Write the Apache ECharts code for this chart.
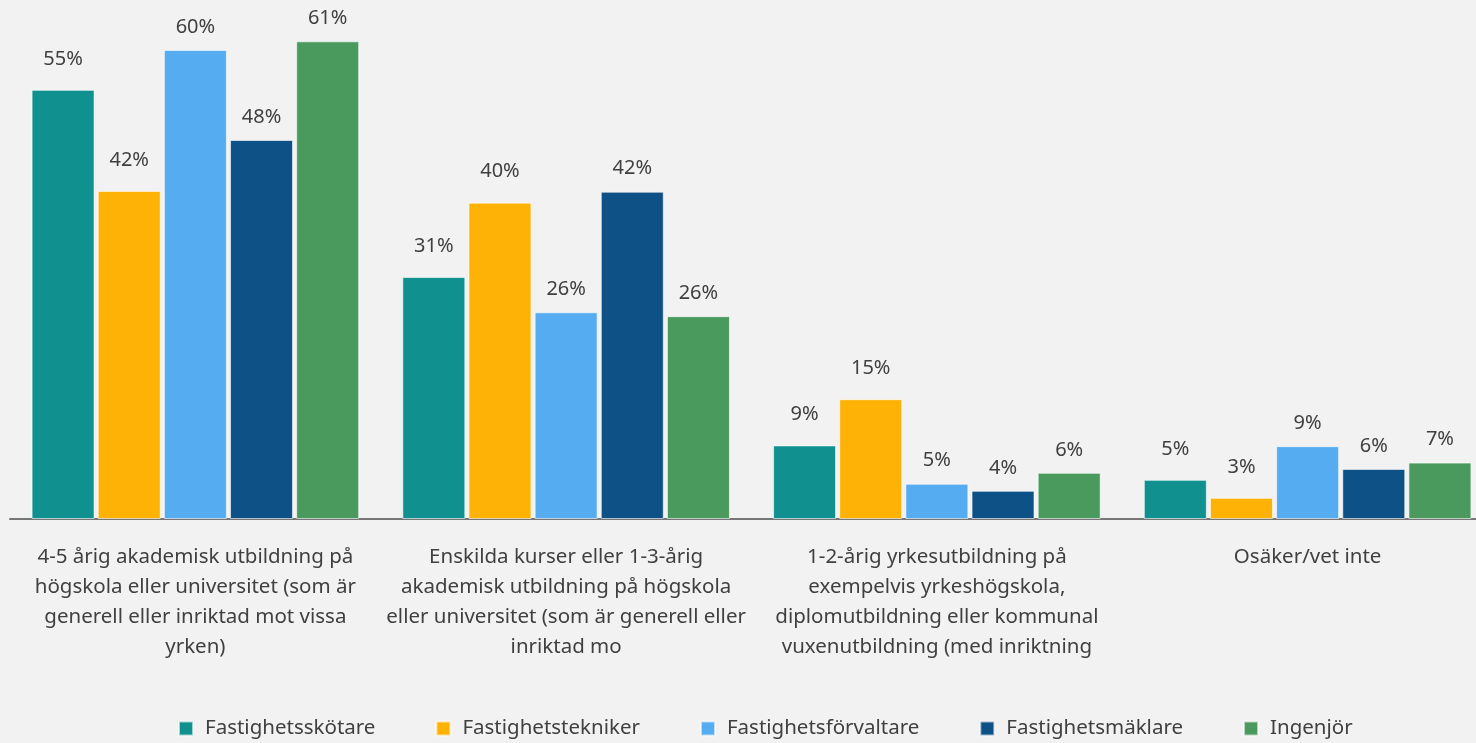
<!DOCTYPE html>
<html>
<head>
<meta charset="utf-8">
<script src="https://cdn.jsdelivr.net/npm/echarts@6/dist/echarts.min.js"></script>
<style>
html,body{margin:0;padding:0;background:#f2f2f2;}
#chart{width:1476px;height:743px;}
</style>
</head>
<body>
<div id="chart"></div>
<script>
const categories = [
  "4-5 årig akademisk utbildning på\nhögskola eller universitet (som är\ngenerell eller inriktad mot vissa\nyrken)",
  "Enskilda kurser eller 1-3-årig\nakademisk utbildning på högskola\neller universitet (som är generell eller\ninriktad mo",
  "1-2-årig yrkesutbildning på\nexempelvis yrkeshögskola,\ndiplomutbildning eller kommunal\nvuxenutbildning (med inriktning",
  "Osäker/vet inte"
];
const seriesNames = ["Fastighetsskötare", "Fastighetstekniker", "Fastighetsförvaltare", "Fastighetsmäklare", "Ingenjör"];
const fastighetsskotare = [54.8, 30.9, 9.4, 5.0];
const fastighetstekniker = [41.9, 40.4, 15.3, 2.7];
const fastighetsforvaltare = [59.9, 26.4, 4.5, 9.3];
const fastighetsmaklare = [48.4, 41.8, 3.6, 6.4];
const ingenjor = [61.0, 25.9, 5.9, 7.2];
const colors = ["#10918f", "#fdb205", "#55acf0", "#0e5186", "#4a9a5e"];
const labelDistances = [21, 21, 13, 13, 13];

const allData = [fastighetsskotare, fastighetstekniker, fastighetsforvaltare, fastighetsmaklare, ingenjor];
const fontFamily = "'Noto Sans', sans-serif";

const chart = echarts.init(document.getElementById('chart'));
chart.setOption({
  backgroundColor: '#f2f2f2',
  animation: false,
  color: colors,
  grid: { left: 10, width: 1483, top: 10, height: 509, containLabel: false, outerBoundsMode: 'none' },
  legend: {
    top: 713,
    left: 173,
    itemWidth: 14,
    itemHeight: 14,
    itemGap: 60,
    icon: 'rect',
    textStyle: { color: '#404040', fontSize: 20.5, fontFamily: fontFamily, padding: [0, 0, 0, 7] },
    data: seriesNames
  },
  xAxis: {
    type: 'category',
    data: categories,
    axisLine: { lineStyle: { color: '#767676', width: 2 } },
    axisTick: { show: false },
    axisLabel: { color: '#404040', fontSize: 20.5, fontFamily: fontFamily, lineHeight: 30, margin: 23, interval: 0 }
  },
  yAxis: {
    type: 'value',
    min: 0,
    max: 65,
    show: false,
    splitLine: { show: false }
  },
  series: allData.map((d, i) => ({
    name: seriesNames[i],
    type: 'bar',
    data: d,
    barWidth: 63,
    barGap: '5%',
    itemStyle: { color: colors[i], borderColor: 'rgba(255,255,255,0.6)', borderWidth: 1 },
    label: {
      show: true,
      position: 'top',
      distance: labelDistances[i],
      color: '#404040',
      fontSize: 20,
      fontFamily: fontFamily,
      formatter: p => Math.round(p.value) + '%'
    }
  }))
});
</script>
</body>
</html>
